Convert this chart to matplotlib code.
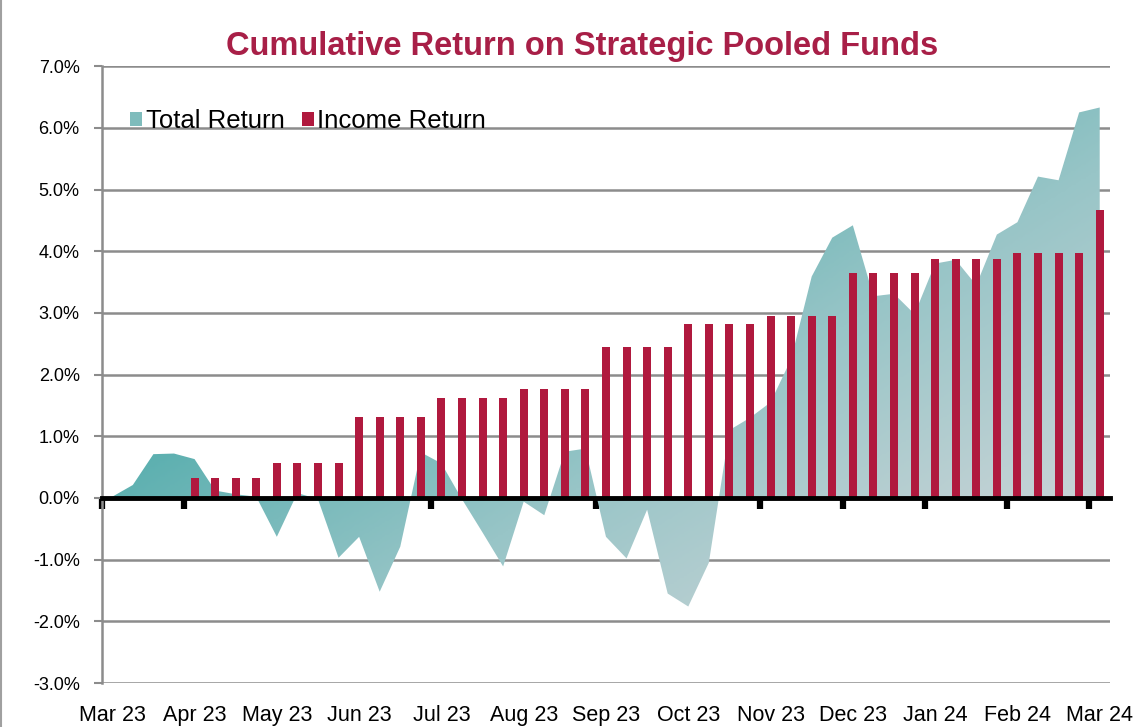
import numpy as np
import matplotlib.pyplot as plt
import matplotlib.transforms as mtransforms
from matplotlib.colors import LinearSegmentedColormap
from matplotlib.patches import Patch, Polygon

plt.rcParams['font.family'] = ['Liberation Sans', 'DejaVu Sans']

# weekly categories, one label per month (every 4th week)
month_labels = ["Mar 23", "Apr 23", "May 23", "Jun 23", "Jul 23", "Aug 23", "Sep 23",
                "Oct 23", "Nov 23", "Dec 23", "Jan 24", "Feb 24", "Mar 24"]

# cumulative total return, % (area)
total_return = [0.02, 0.21, 0.71, 0.72, 0.63, 0.12, 0.06, 0.02,
                -0.63, 0.08, -0.02, -0.97, -0.63, -1.52, -0.79, 0.74,
                0.56, -0.02, -0.56, -1.11, -0.06, -0.28, 0.75, 0.80,
                -0.63, -0.98, -0.19, -1.55, -1.76, -1.05, 1.10, 1.30,
                1.55, 2.25, 3.59, 4.22, 4.42, 3.27, 3.31, 2.98,
                3.80, 3.86, 3.45, 4.27, 4.47, 5.21, 5.15, 6.25, 6.33]

# cumulative income return, % (bars)
income_return = [np.nan, np.nan, np.nan, np.nan, 0.32, 0.32, 0.32, 0.32,
                 0.56, 0.56, 0.56, 0.56, 1.31, 1.31, 1.31, 1.31,
                 1.62, 1.62, 1.62, 1.62, 1.77, 1.77, 1.77, 1.77,
                 2.45, 2.45, 2.45, 2.45, 2.82, 2.82, 2.82, 2.82,
                 2.95, 2.95, 2.95, 2.95, 3.64, 3.64, 3.64, 3.64,
                 3.87, 3.87, 3.87, 3.87, 3.97, 3.97, 3.97, 3.97, 4.67]

y_ticks = [-3, -2, -1, 0, 1, 2, 3, 4, 5, 6, 7]

bar_color = '#b0193e'
title_color = '#a81f47'
grid_color = '#8c8c8c'

fig = plt.figure(figsize=(11.33, 7.27), dpi=100)
ax = fig.add_axes([0.090, 0.0605, 0.8897, 0.8485])

n = len(total_return)
x = np.arange(n)
xmin, xmax = -0.5, n - 0.5
ymin, ymax = y_ticks[0], y_ticks[-1]

# gradient filled area (teal top-left -> grey bottom-right)
verts = [(x[0], 0)] + list(zip(x, total_return)) + [(x[-1], 0)]
shape = Polygon(verts, closed=True, facecolor='none', edgecolor='none')
ax.add_patch(shape)
u = np.linspace(0, 1, 400)
v = np.linspace(0, 1, 300)
U, V = np.meshgrid(u, v)
t = np.clip(U - V + 0.344, 0, 1)
cmap = LinearSegmentedColormap.from_list('tr', ['#5aafaf', '#98c5c7', '#c6d3d6'])
im = ax.imshow(t, cmap=cmap, extent=(xmin, xmax, ymin, ymax), origin='lower',
               aspect='auto', zorder=1, vmin=0, vmax=1)
im.set_clip_path(shape)

ax.bar(x, income_return, width=0.39, color=bar_color, zorder=3)

ax.set_xlim(xmin, xmax)
ax.set_ylim(ymin, ymax)

# y axis
ax.set_yticks(y_ticks)
ax.set_yticklabels([f"{v:.1f}%" for v in y_ticks], fontsize=13)
ax.yaxis.grid(True, color=grid_color, lw=1.8)
ax.set_axisbelow(True)
ax.tick_params(axis='y', direction='out', length=6, width=1.5, color=grid_color, pad=10)
ax.spines['left'].set_color(grid_color)
ax.spines['left'].set_linewidth(1.8)
ax.spines['top'].set_visible(False)
ax.spines['right'].set_visible(False)

# zero line as the category axis
ax.spines['bottom'].set_position(('data', 0))
ax.spines['bottom'].set_color('black')
ax.spines['bottom'].set_linewidth(3.5)
ax.spines['bottom'].set_zorder(4)
ax.set_xticks(np.arange(len(month_labels)) * 4 - 0.5)
ax.tick_params(axis='x', direction='out', length=8, width=4.5, color='black',
               labelbottom=False)

lab_trans = mtransforms.blended_transform_factory(ax.transData, ax.transAxes)
for k, lab in enumerate(month_labels):
    ax.text(k * 4, -0.053, lab, transform=lab_trans, ha='center', va='center',
            fontsize=15.5, clip_on=False)

fig.text(0.514, 1 - 46 / 727, "Cumulative Return on Strategic Pooled Funds",
         ha='center', va='center', fontsize=23.5, fontweight='bold', color=title_color)

handles = [Patch(facecolor='#7fbcbc', label='Total Return'),
           Patch(facecolor=bar_color, label='Income Return')]
ax.legend(handles=handles, loc='center left', bbox_to_anchor=(0.018, 0.911),
          ncol=2, frameon=False, fontsize=18.5, handlelength=0.45, handleheight=0.45,
          handletextpad=0.15, columnspacing=0.68, borderaxespad=0)

# thin frame on the left edge like the source
fig.add_artist(plt.Line2D([0.001, 0.001], [0, 1], color='#a0a0a0', lw=1.5,
                          transform=fig.transFigure))

fig.savefig('out.png', dpi=100)
